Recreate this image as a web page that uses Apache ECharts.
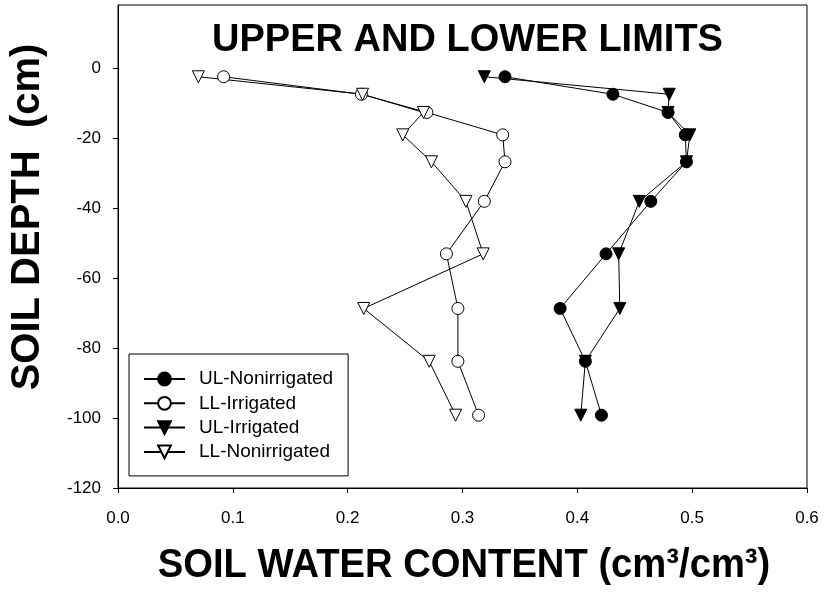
<!DOCTYPE html>
<html>
<head>
<meta charset="utf-8">
<script src="https://cdn.jsdelivr.net/npm/echarts@6/dist/echarts.min.js"></script>
<style>
html,body{margin:0;padding:0;background:#fff;}
#chart{width:825px;height:592px;}
</style>
</head>
<body>
<div id="chart"></div>
<script>
// ---- data ----
const depths = [-2.5, -7.5, -12.7, -19.1, -26.8, -38.1, -53.1, -68.7, -83.8, -99.2];
const ulNonirrigated = [0.337, 0.431, 0.479, 0.494, 0.495, 0.464, 0.425, 0.385, 0.407, 0.421];
const llIrrigated    = [0.092, 0.212, 0.269, 0.335, 0.337, 0.319, 0.286, 0.296, 0.296, 0.314];
const ulIrrigated    = [0.319, 0.480, 0.479, 0.498, 0.495, 0.454, 0.436, 0.437, 0.407, 0.403];
const llNonirrigated = [0.070, 0.213, 0.266, 0.248, 0.273, 0.303, 0.318, 0.214, 0.271, 0.294];
const seriesNames = ['UL-Nonirrigated', 'LL-Irrigated', 'UL-Irrigated', 'LL-Nonirrigated'];
const xTicks = [0, 0.1, 0.2, 0.3, 0.4, 0.5, 0.6];
const yTicks = [-120, -100, -80, -60, -40, -20, 0];
const chartTitle = 'UPPER AND LOWER LIMITS';
const xTitle = 'SOIL WATER CONTENT (cm\u00B3/cm\u00B3)';
const yTitle = 'SOIL DEPTH  (cm)';

const FONT = '"Liberation Sans", Arial, sans-serif';
function pairs(xs){ return xs.map((x,i)=>[x, depths[i]]); }

const filled = {color:'#000', borderColor:'#000', borderWidth:1};
const open = {color:'#fff', borderColor:'#000', borderWidth:1};
function mk(name, xs, symbol, rot, style){
  return {
    name, type:'line', data: pairs(xs),
    symbol, symbolSize: 12, symbolRotate: rot,
    itemStyle: style,
    lineStyle: {color:'#000', width:1},
    emphasis: {disabled:true},
    z: 2
  };
}

const chart = echarts.init(document.getElementById('chart'), null, {renderer:'canvas'});
chart.setOption({
  animation: false,
  backgroundColor: '#fff',
  grid: {left:118, right:18, top:5, bottom:104, show:true, borderColor:'#000', borderWidth:1, backgroundColor:'transparent'},
  xAxis: {
    type:'value', min:0, max:0.6, interval:0.1,
    axisLine:{show:true, onZero:false, lineStyle:{color:'#000', width:1}},
    axisTick:{show:true, inside:false, length:5, lineStyle:{color:'#000'}, customValues: xTicks},
    axisLabel:{color:'#000', fontFamily:FONT, fontSize:17, margin:22, customValues: xTicks,
      formatter: v => Number(v).toFixed(1)},
    splitLine:{show:false}
  },
  yAxis: {
    type:'value', min:-120, max:18, interval:20,
    axisLine:{show:true, onZero:false, lineStyle:{color:'#000', width:1}},
    axisTick:{show:true, inside:false, length:5, lineStyle:{color:'#000'}, customValues: yTicks},
    axisLabel:{color:'#000', fontFamily:FONT, fontSize:17, margin:17, customValues: yTicks},
    splitLine:{show:false}
  },
  legend: {
    orient:'vertical', left:129, top:354,
    data: seriesNames,
    itemWidth:41, itemHeight:16, itemGap:5.3,
    padding:[15.5,15,14.5,14],
    borderColor:'#000', borderWidth:1, backgroundColor:'#fff',
    textStyle:{color:'#000', fontFamily:FONT, fontSize:19, padding:[0,0,0,9]},
    selectedMode:false
  },
  graphic: [
    {type:'text', x:467.5, y:41, z:10,
      style:{text:chartTitle, font:'bold 38px '+FONT, fill:'#000', textAlign:'center', textVerticalAlign:'middle'}},
    {type:'text', x:464, y:566, z:10, scaleX:0.955,
      style:{text:xTitle, font:'bold 40px '+FONT, fill:'#000', textAlign:'center', textVerticalAlign:'middle'}},
    {type:'text', x:28, y:217, rotation:Math.PI/2, z:10,
      style:{text:yTitle, font:'bold 40px '+FONT, fill:'#000', textAlign:'center', textVerticalAlign:'middle'}}
  ],
  series: [
    mk(seriesNames[0], ulNonirrigated, 'circle', 0, filled),
    mk(seriesNames[1], llIrrigated, 'circle', 0, open),
    mk(seriesNames[2], ulIrrigated, 'triangle', 180, filled),
    mk(seriesNames[3], llNonirrigated, 'triangle', 180, open)
  ]
});
</script>
</body>
</html>
